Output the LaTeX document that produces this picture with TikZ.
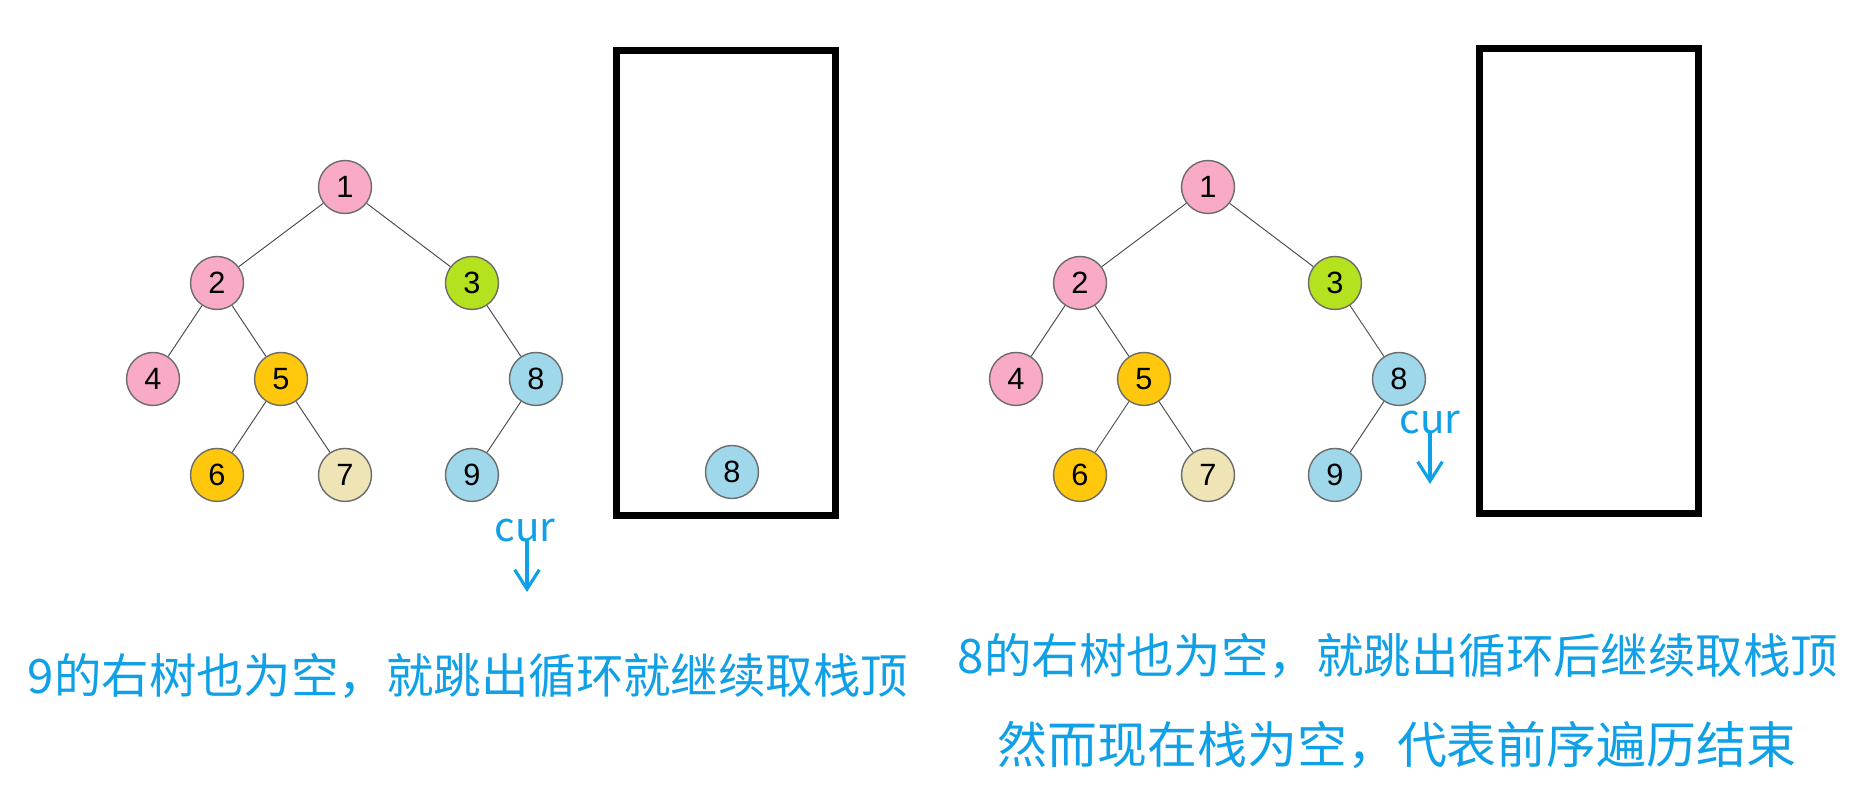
\documentclass[tikz,border=0pt]{standalone}
\usepackage{fontspec}
\setmainfont{Liberation Sans}
\newfontfamily\cjk{Noto Sans CJK SC}
\usepackage{xcolor}
\usepackage{tikz}
\usetikzlibrary{arrows.meta,positioning}
\definecolor{pinkn}{RGB}{249,170,198}
\definecolor{greenn}{RGB}{181,226,30}
\definecolor{yellown}{RGB}{255,200,12}
\definecolor{beigen}{RGB}{238,228,182}
\definecolor{bluen}{RGB}{158,216,234}
\definecolor{noteblue}{RGB}{16,160,232}
\tikzset{
  tnode/.style={
    circle, draw=gray!85!black, line width=0.8pt,
    fill=#1, minimum size=1.06cm, inner sep=0pt,
    font=\fontsize{17.5}{17.5}\selectfont
  },
  tedge/.style={gray!60!black, line width=0.55pt},
  stackbox/.style={
    rectangle, draw=black, line width=4pt,
    minimum width=4.38cm, minimum height=9.3cm
  },
  curlbl/.style={font=\cjk\fontsize{23}{23}\selectfont, text=noteblue, inner sep=0pt},
  curarr/.style={-{Straight Barb[length=11pt,width=14pt,line width=1.8pt]},
    line width=1.8pt, noteblue},
  note/.style={font=\cjk\fontsize{#1}{#1}\selectfont, text=noteblue, inner sep=0pt},
  note/.default=27
}

\begin{document}
\begin{tikzpicture}[x=0.02cm, y=-0.02cm, node distance=1.92cm and 1.28cm, on grid]
\useasboundingbox (0,0) rectangle (1870,787);

% Left panel: tree
\node[tnode=pinkn] (l1) at (345,187) {1};
\node[tnode=pinkn, below left=1.92cm and 2.56cm of l1] (l2) {2};
\node[tnode=greenn, below right=1.92cm and 2.54cm of l1] (l3) {3};
\node[tnode=pinkn, below left=of l2] (l4) {4};
\node[tnode=yellown, below right=of l2] (l5) {5};
\node[tnode=bluen, below right=of l3] (l8) {8};
\node[tnode=yellown, below left=of l5] (l6) {6};
\node[tnode=beigen, below right=of l5] (l7) {7};
\node[tnode=bluen, below left=of l8] (l9) {9};

\draw[tedge] (l1) -- (l2);
\draw[tedge] (l1) -- (l3);
\draw[tedge] (l2) -- (l4);
\draw[tedge] (l2) -- (l5);
\draw[tedge] (l5) -- (l6);
\draw[tedge] (l5) -- (l7);
\draw[tedge] (l3) -- (l8);
\draw[tedge] (l8) -- (l9);

% Left panel: stack
\node[stackbox] (lstack) at (726,283) {};
\node[tnode=bluen] (ls8) at (732,472) {8};

% Left panel: cur
\node[curlbl] (lcur) at (525,531) {cur};
\coordinate (lcurtip) at (527,592);
\draw[curarr] (lcur.south) ++(2,-4) -- (lcurtip);

\node[note] (ltext) at (468,676) {9的右树也为空，就跳出循环就继续取栈顶};

% Right panel: tree
\node[tnode=pinkn] (r1) at (1208,187) {1};
\node[tnode=pinkn, below left=1.92cm and 2.56cm of r1] (r2) {2};
\node[tnode=greenn, below right=1.92cm and 2.54cm of r1] (r3) {3};
\node[tnode=pinkn, below left=of r2] (r4) {4};
\node[tnode=yellown, below right=of r2] (r5) {5};
\node[tnode=bluen, below right=of r3] (r8) {8};
\node[tnode=yellown, below left=of r5] (r6) {6};
\node[tnode=beigen, below right=of r5] (r7) {7};
\node[tnode=bluen, below left=of r8] (r9) {9};

\draw[tedge] (r1) -- (r2);
\draw[tedge] (r1) -- (r3);
\draw[tedge] (r2) -- (r4);
\draw[tedge] (r2) -- (r5);
\draw[tedge] (r5) -- (r6);
\draw[tedge] (r5) -- (r7);
\draw[tedge] (r3) -- (r8);
\draw[tedge] (r8) -- (r9);

% Right panel: empty stack
\node[stackbox] (rstack) at (1589,281) {};

% Right panel: cur
\node[curlbl] (rcur) at (1430,423) {cur};
\coordinate (rcurtip) at (1430,484);
\draw[curarr] (rcur.south) ++(0,-4) -- (rcurtip);

\node[note] (rtext1) at (1398,656) {8的右树也为空，就跳出循环后继续取栈顶};
\node[note=28.4] (rtext2) at (1397,745) {然而现在栈为空，代表前序遍历结束};

\end{tikzpicture}
\end{document}
